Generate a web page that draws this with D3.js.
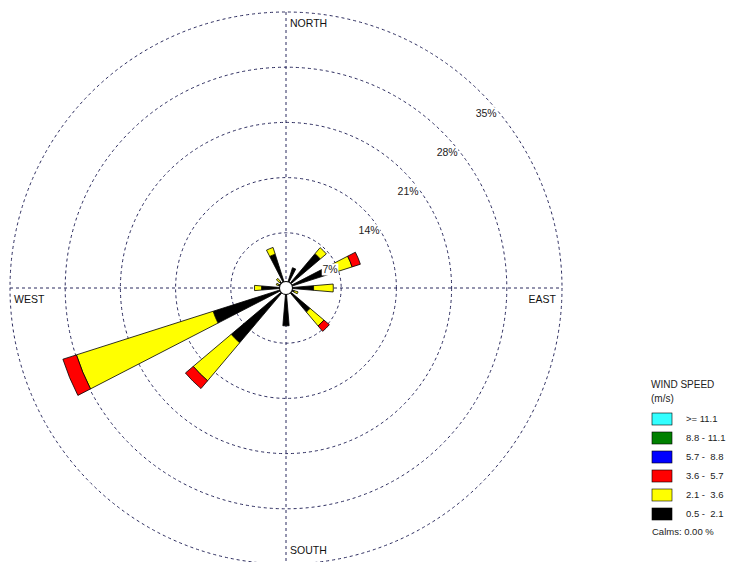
<!DOCTYPE html>
<html>
<head>
<meta charset="utf-8">
<script src="https://cdn.jsdelivr.net/npm/d3@7"></script>
<style>
  html, body { margin: 0; padding: 0; background: #fff; }
  svg { display: block; font-family: Arial, "Liberation Sans", sans-serif; }
</style>
</head>
<body>
<svg id="chart" width="729" height="562"></svg>
<script>
// ---- data ----
const directions = ["N","NNE","NE","ENE","E","ESE","SE","SSE","S","SSW","SW","WSW","W","WNW","NW","NNW"];
const speedClasses = ["0.5 -  2.1","2.1 -  3.6","3.6 -  5.7","5.7 -  8.8","8.8 - 11.1",">= 11.1"];
const speedColors = ["#000000","#ffff00","#ff0000","#0000ff","#008000","#33ffff"];
// frequency (%) per direction for each speed class
const s05_21  = [0, 2.7, 5.7, 5.5, 3.5, 1.1, 4.0, 0, 4.8, 0, 9.1, 9.7, 3.1, 1.0, 1.1, 4.5];
const s21_36  = [0, 0,   1.0, 3.3, 2.5, 0.5, 2.3, 0, 0,   0, 6.3, 18.2, 0.9, 0.3, 0.5, 0.9];
const s36_57  = [0, 0,   0,   1.1, 0,   0,   0.9, 0, 0,   0, 1.3, 1.8, 0,   0,   0,   0];
const s57_88  = [0, 0, 0, 0, 0, 0, 0, 0, 0, 0, 0, 0, 0, 0, 0, 0];
const s88_111 = [0, 0, 0, 0, 0, 0, 0, 0, 0, 0, 0, 0, 0, 0, 0, 0];
const s111    = [0, 0, 0, 0, 0, 0, 0, 0, 0, 0, 0, 0, 0, 0, 0, 0];
const ringTicks = [7, 14, 21, 28, 35];
const compassLabels = ["NORTH","EAST","SOUTH","WEST"];
const legendTitle = ["WIND SPEED","(m/s)"];
const calmsText = "Calms: 0.00 %";

// ---- layout ----
const svg = d3.select("#chart");
const cx = 286, cy = 288, R = 276;
const r = d3.scaleLinear().domain([0, 35]).range([0, R]);
const ang = d3.scaleLinear().domain([0, directions.length]).range([0, 2 * Math.PI]);
const wedge = 9.6 * Math.PI / 180;
const gridColor = "#2b2b5e";

const g = svg.append("g").attr("transform", `translate(${cx},${cy})`);

// rings
g.selectAll("circle.ring").data(ringTicks).join("circle")
  .attr("class", "ring")
  .attr("r", d => r(d))
  .attr("fill", "none")
  .attr("stroke", gridColor)
  .attr("stroke-width", 1)
  .attr("stroke-dasharray", "3,3");

// crosshair
g.append("line").attr("x1", -r(35)).attr("x2", r(35)).attr("y1", 0).attr("y2", 0)
  .attr("stroke", gridColor).attr("stroke-dasharray", "3,3");
g.append("line").attr("y1", -r(35)).attr("y2", r(35)).attr("x1", 0).attr("x2", 0)
  .attr("stroke", gridColor).attr("stroke-dasharray", "3,3");

// stacked wedges
const classes = [s05_21, s21_36, s36_57, s57_88, s88_111, s111];
const segs = [];
directions.forEach((dir, i) => {
  let c = 0;
  classes.forEach((arr, k) => {
    const v = arr[i];
    if (v > 0) {
      segs.push({dir: i, k, r0: c, r1: c + v});
      c += v;
    }
  });
});
const arc = d3.arc()
  .innerRadius(d => r(d.r0))
  .outerRadius(d => r(d.r1))
  .startAngle(d => ang(d.dir) - wedge / 2)
  .endAngle(d => ang(d.dir) + wedge / 2);
g.selectAll("path.seg").data(segs).join("path")
  .attr("class", "seg")
  .attr("d", arc)
  .attr("fill", d => speedColors[d.k])
  .attr("stroke", "#000")
  .attr("stroke-width", 0.8)
  .attr("stroke-linejoin", "miter");

// calm circle
g.append("circle").attr("r", 6.5).attr("fill", "#fff").attr("stroke", "#000").attr("stroke-width", 1);

// ring labels
const lab = g.selectAll("g.rl").data(ringTicks).join("g")
  .attr("class", "rl")
  .attr("transform", d => {
    const p = r(d) * Math.SQRT1_2;
    return `translate(${p + 5},${-p + 20.5})`;
  });
lab.append("rect").attr("x", d => -(String(d).length * 5.6 + 9) / 2 - 1).attr("y", -6)
  .attr("width", d => String(d).length * 5.6 + 11).attr("height", 12).attr("fill", "#fff");
lab.append("text").text(d => d + "%")
  .attr("text-anchor", "middle").attr("dy", "0.35em")
  .attr("font-size", 10.5).attr("fill", "#222");

// compass labels
const cl = g.append("g").attr("font-size", 10.5).attr("fill", "#111");
cl.append("text").text(compassLabels[0]).attr("x", 4).attr("y", -R + 15);
cl.append("text").text(compassLabels[1]).attr("x", R - 6).attr("y", 15).attr("text-anchor", "end");
cl.append("text").text(compassLabels[2]).attr("x", 4).attr("y", R - 10.5);
cl.append("text").text(compassLabels[3]).attr("x", -R + 4).attr("y", 15);

// legend
const lg = svg.append("g").attr("transform", "translate(651,0)").attr("fill", "#222");
lg.selectAll("text.t").data(legendTitle).join("text").attr("class", "t")
  .text(d => d).attr("x", 0).attr("y", (d, i) => 388 + i * 14).attr("font-size", 10);
const order = d3.range(speedClasses.length).reverse();
const ly = d3.scalePoint().domain(order).range([419, 514]);
const items = lg.selectAll("g.it").data(order).join("g").attr("class", "it")
  .attr("transform", d => `translate(0,${ly(d)})`);
items.append("rect").attr("x", 1).attr("y", -6).attr("width", 20).attr("height", 12)
  .attr("fill", d => speedColors[d]).attr("stroke", "#000").attr("stroke-width", 0.6);
items.append("text").text(d => speedClasses[d]).attr("x", 35).attr("dy", "0.35em")
  .attr("font-size", 9.5).style("white-space", "pre");
lg.append("text").text(calmsText).attr("x", 1).attr("y", 535).attr("font-size", 9.5);
</script>
</body>
</html>
